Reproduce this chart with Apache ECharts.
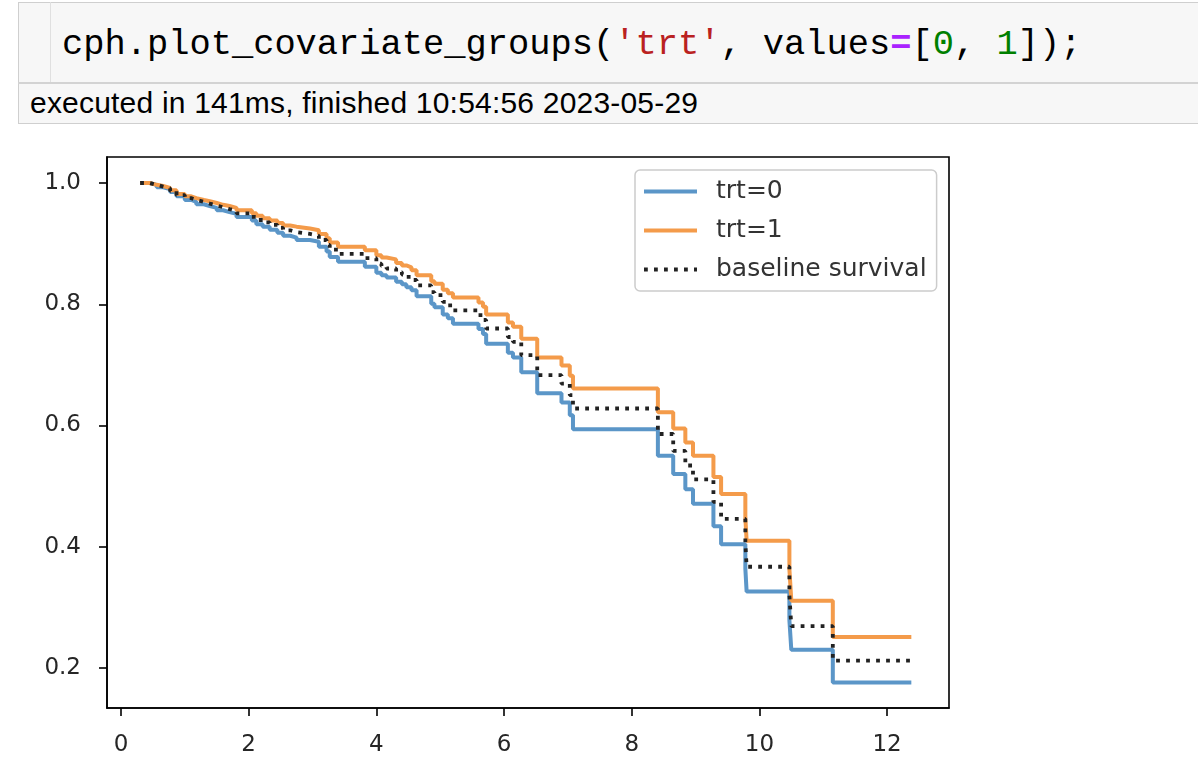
<!DOCTYPE html>
<html>
<head>
<meta charset="utf-8">
<script src="https://cdn.jsdelivr.net/npm/echarts@6/dist/echarts.min.js"></script>
<style>
  html, body { margin:0; padding:0; background:#fff; width:1198px; height:764px; overflow:hidden; }
  #cell { position:absolute; left:18px; top:2px; width:1200px; height:122px; border:1px solid #cfcfcf; border-right:none; background:#f7f7f7; box-sizing:border-box; }
  #vline { position:absolute; left:50px; top:2px; width:1px; height:80px; background:#e0e0e0; }
  #hline { position:absolute; left:18px; top:82px; width:1180px; height:2px; background:#d3d3d3; }
  #code { position:absolute; left:62px; top:20px; height:50px; line-height:50px; font-family:"Liberation Mono", monospace; font-size:35.4px; color:#000; white-space:pre; }
  #exec { position:absolute; left:30px; top:86px; height:34px; line-height:34px; font-family:"Liberation Sans", Arial, sans-serif; font-size:30px; color:#000; white-space:pre; letter-spacing:0.2px; }
  #chart { position:absolute; left:0; top:130px; width:1198px; height:634px; }
</style>
</head>
<body>
<div id="cell"></div>
<div id="vline"></div>
<div id="hline"></div>
<div id="code">cph.plot_covariate_groups(<span style="color:#BA2121">'trt'</span>, values<span style="color:#AA22FF;font-weight:bold">=</span>[<span style="color:#008000">0</span>, <span style="color:#008000">1</span>]);</div>
<div id="exec">executed in 141ms, finished 10:54:56 2023-05-29</div>
<div id="chart"></div>
<script>
const times = [0.30,0.45,0.56,0.66,0.77,0.87,1.00,1.10,1.18,1.30,1.39,1.50,1.60,1.70,1.81,2.05,2.12,2.22,2.33,2.45,2.54,2.65,2.75,2.96,3.10,3.22,3.27,3.40,3.82,4.00,4.08,4.16,4.31,4.40,4.47,4.55,4.63,4.86,4.91,5.04,5.12,5.20,5.60,5.67,5.72,6.06,6.14,6.27,6.52,6.90,7.03,7.08,8.41,8.65,8.84,8.96,9.28,9.40,9.78,9.80,10.47,10.50,11.15,12.38];
const trt0 = [1.000,0.997,0.993,0.990,0.985,0.978,0.972,0.969,0.965,0.962,0.959,0.955,0.952,0.949,0.944,0.938,0.932,0.928,0.923,0.918,0.913,0.910,0.906,0.903,0.895,0.887,0.878,0.870,0.862,0.852,0.848,0.844,0.837,0.833,0.828,0.823,0.813,0.801,0.795,0.783,0.777,0.768,0.759,0.751,0.735,0.720,0.712,0.688,0.653,0.638,0.617,0.594,0.550,0.520,0.495,0.471,0.434,0.404,0.364,0.326,0.279,0.230,0.176,0.176];
const trt1 = [1.000,0.997,0.995,0.992,0.988,0.982,0.978,0.975,0.972,0.970,0.967,0.964,0.962,0.959,0.955,0.950,0.946,0.942,0.938,0.934,0.930,0.928,0.925,0.922,0.916,0.909,0.902,0.895,0.889,0.881,0.877,0.874,0.868,0.864,0.861,0.856,0.848,0.838,0.834,0.824,0.818,0.811,0.803,0.796,0.783,0.770,0.763,0.743,0.712,0.699,0.682,0.661,0.622,0.595,0.572,0.550,0.515,0.487,0.448,0.410,0.363,0.311,0.251,0.251];
const baseline = [1.000,0.997,0.994,0.991,0.987,0.980,0.975,0.972,0.969,0.966,0.963,0.960,0.957,0.954,0.950,0.944,0.939,0.935,0.931,0.926,0.922,0.919,0.916,0.913,0.906,0.898,0.890,0.883,0.876,0.867,0.863,0.859,0.853,0.849,0.845,0.840,0.831,0.820,0.815,0.804,0.798,0.790,0.782,0.774,0.760,0.746,0.738,0.716,0.683,0.669,0.650,0.628,0.586,0.558,0.534,0.511,0.474,0.446,0.406,0.367,0.320,0.269,0.212,0.212];
const seriesNames = ['trt=0', 'trt=1', 'baseline survival'];
const xTicks = [0, 2, 4, 6, 8, 10, 12];
const yTicks = [0.2, 0.4, 0.6, 0.8, 1.0];

const pairs = arr => times.map((t, i) => [t, arr[i]]);
const font = '"DejaVu Sans", sans-serif';
const chart = echarts.init(document.getElementById('chart'), null, {renderer: 'canvas'});
chart.setOption({
  animation: false,
  grid: { left: 107, top: 27, width: 842, height: 551, show: true, borderColor: '#000', borderWidth: 1.6, backgroundColor: 'transparent' },
  legend: {
    orient: 'vertical', left: 635, top: 40,
    backgroundColor: 'rgba(255,255,255,0.8)', borderColor: '#cccccc', borderWidth: 1.5, borderRadius: 5,
    padding: [9, 10, 9, 7], itemWidth: 53, itemHeight: 14, itemGap: 14,
    itemStyle: { color: 'rgba(0,0,0,0)', borderWidth: 0, opacity: 0 },
    lineStyle: { width: 4 },
    textStyle: { fontFamily: font, fontSize: 25, color: '#333', lineHeight: 25, padding: [0, 0, 0, 14] },
    data: seriesNames
  },
  xAxis: {
    type: 'value', min: -0.219, max: 12.97,
    axisLine: { show: true, onZero: false, lineStyle: { color: '#000', width: 1.6 } },
    axisTick: { show: true, length: 8, inside: false, customValues: xTicks, lineStyle: { color: '#000', width: 1.6 } },
    axisLabel: { customValues: xTicks, fontFamily: font, fontSize: 23, color: '#262626', margin: 26, formatter: v => String(v) },
    splitLine: { show: false }
  },
  yAxis: {
    type: 'value', min: 0.134, max: 1.0429,
    axisLine: { show: true, onZero: false, lineStyle: { color: '#000', width: 1.6 } },
    axisTick: { show: true, length: 8, inside: false, customValues: yTicks, lineStyle: { color: '#000', width: 1.6 } },
    axisLabel: { customValues: yTicks, fontFamily: font, fontSize: 23, color: '#262626', margin: 26, formatter: v => v.toFixed(1) },
    splitLine: { show: false }
  },
  series: [
    { name: seriesNames[0], type: 'line', step: 'end', showSymbol: false, symbol: 'none', data: pairs(trt0),
      lineStyle: { color: '#5b96c8', width: 4 }, itemStyle: { color: '#5b96c8' } },
    { name: seriesNames[1], type: 'line', step: 'end', showSymbol: false, symbol: 'none', data: pairs(trt1),
      lineStyle: { color: '#f49b4a', width: 4 }, itemStyle: { color: '#f49b4a' } },
    { name: seriesNames[2], type: 'line', step: 'end', showSymbol: false, symbol: 'none', data: pairs(baseline),
      lineStyle: { color: '#222', width: 3.8, type: [3.8, 6.2] }, itemStyle: { color: '#222' } }
  ]
});
</script>
</body>
</html>
